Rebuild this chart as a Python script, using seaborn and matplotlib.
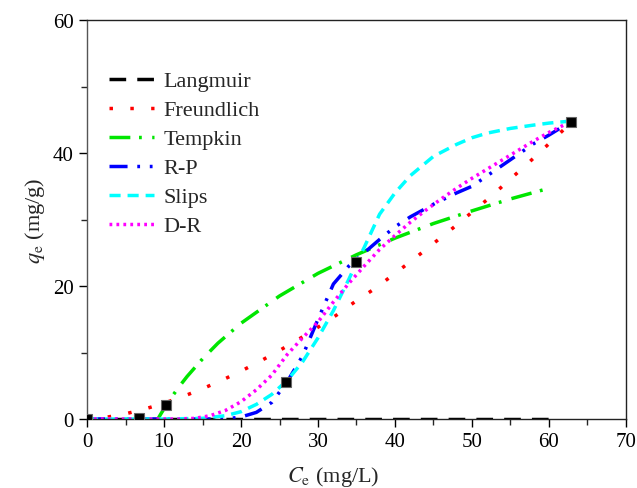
import matplotlib
matplotlib.use("Agg")
import matplotlib.pyplot as plt
import seaborn as sns

# --- data ---
exp_ce = [0.0, 6.7, 10.3, 25.9, 35.0, 62.8]
exp_qe = [0.0, 0.2, 2.1, 5.5, 23.6, 44.7]

lang_x = [0, 10, 20, 30, 40, 50, 60]
lang_y = [0.05, 0.05, 0.05, 0.05, 0.05, 0.05, 0.05]

freu_x = [0, 2.5, 5, 7.5, 10, 12.5, 15, 17.5, 20, 22.5, 25, 27.5, 30, 32.5, 35,
          37.5, 40, 42.5, 45, 47.5, 50, 52.5, 55, 57.5, 60, 62.8]
freu_y = [0, 0.26, 0.78, 1.5, 2.38, 3.4, 4.55, 5.82, 7.2, 8.7, 10.3, 12.0, 13.8, 15.7, 17.8,
          19.7, 21.9, 24.1, 26.4, 28.7, 31.1, 33.5, 36.1, 38.7, 41.4, 44.5]

temp_x = [9.2, 9.5, 10, 11, 12, 13, 15, 17, 20, 25, 30, 35, 40, 45, 50, 55, 60]
temp_y = [0, 0.59, 1.54, 3.31, 4.92, 6.4, 9.04, 11.4, 14.4, 18.5, 21.9, 24.7, 27.2, 29.4, 31.3, 33.1, 34.7]

rp_x = [0, 18, 20, 22, 24, 26, 28, 30, 32, 34, 35, 36, 38, 40, 42, 45, 48, 50, 52, 55, 58, 60, 62.8]
rp_y = [0, 0, 0.3, 1.0, 2.5, 5.6, 9.5, 15.0, 20.3, 23.0, 24.0, 25.0, 27.0, 28.9, 30.4, 32.3, 34.0,
        35.0, 36.6, 39.0, 41.4, 42.7, 44.7]

slips_x = [0, 10, 15, 18, 20, 22, 24, 26, 28, 30, 32, 34, 35, 36, 38, 40, 42, 45, 48, 50, 52, 55,
           58, 60, 62.8]
slips_y = [0, 0, 0.1, 0.5, 1.1, 2.2, 3.7, 5.8, 8.6, 12.2, 16.3, 21.0, 23.5, 25.8, 30.8, 34.0, 36.6,
           39.5, 41.3, 42.3, 43.0, 43.7, 44.2, 44.5, 44.8]

dr_x = [0, 12, 14, 16, 18, 20, 22, 24, 26, 28, 30, 32, 34, 36, 38, 40, 42, 44, 46, 48, 50, 52, 54,
        56, 58, 60, 62.8]
dr_y = [0, 0, 0.1, 0.5, 1.3, 2.6, 4.4, 6.6, 9.7, 12.2, 14.6, 17.6, 20.4, 23.0, 25.5, 27.6, 29.6,
        31.4, 33.1, 34.7, 36.2, 37.6, 39.0, 40.4, 41.8, 43.1, 44.7]

sns.set_style("ticks")
plt.rcParams['font.family'] = ['Liberation Serif', 'DejaVu Serif']
plt.rcParams['mathtext.fontset'] = 'stix'

fig = plt.figure(figsize=(6.37, 4.89), dpi=100)
ax = fig.add_axes([0.1366, 0.1411, 0.8461, 0.8159])

curves = [
    ("Langmuir", lang_x, lang_y, "black", (0, (4.8, 3.2))),
    ("Freundlich", freu_x, freu_y, "#FF0000", (0, (1, 5))),
    ("Tempkin", temp_x, temp_y, "#00E600", (0, (6, 2.5, 0.8, 3))),
    ("R-P", rp_x, rp_y, "#0000FF", (0, (5.2, 2.8, 0.8, 2.8, 0.8, 2.8))),
    ("Slips", slips_x, slips_y, "#00FFFF", (0, (3.2, 2))),
    ("D-R", dr_x, dr_y, "#FF00FF", (0, (0.8, 1.2))),
]
for name, xs, ys, col, ls in curves:
    sns.lineplot(x=xs, y=ys, ax=ax, color=col, linestyle=ls, lw=2.5, label=name,
                 sort=False, estimator=None)

ax.plot(exp_ce, exp_qe, 's', color='black', markersize=7.5, markeredgecolor='#666666',
        markeredgewidth=0.8, zorder=5)

ax.set_xlim(0, 70)
ax.set_ylim(0, 60)
ax.set_xticks(range(0, 71, 10))
ax.set_xticks(range(5, 70, 10), minor=True)
ax.set_yticks(range(0, 61, 20))
ax.set_yticks(range(10, 60, 20), minor=True)
ax.tick_params(which='major', direction='out', length=6, width=1, labelsize=15, colors='black')
ax.tick_params(which='minor', direction='out', length=4, width=1)
for sp in ax.spines.values():
    sp.set_visible(True)
    sp.set_color('#222222')
    sp.set_linewidth(1)
ax.spines['left'].set_color('#555555')

ax.set_xlabel(r'$C_\mathrm{e}$ (mg/L)', fontsize=16)
ax.xaxis.set_label_coords(0.456, -0.113)
ax.set_ylabel(r'$q_\mathrm{e}$ (mg/g)', fontsize=16, labelpad=4)

leg = ax.legend(loc='upper left', bbox_to_anchor=(0.025, 0.895), frameon=False, fontsize=16,
                handlelength=2.0, handletextpad=0.45, labelspacing=0.38, borderaxespad=0)

fig.savefig('out.png', dpi=100)
